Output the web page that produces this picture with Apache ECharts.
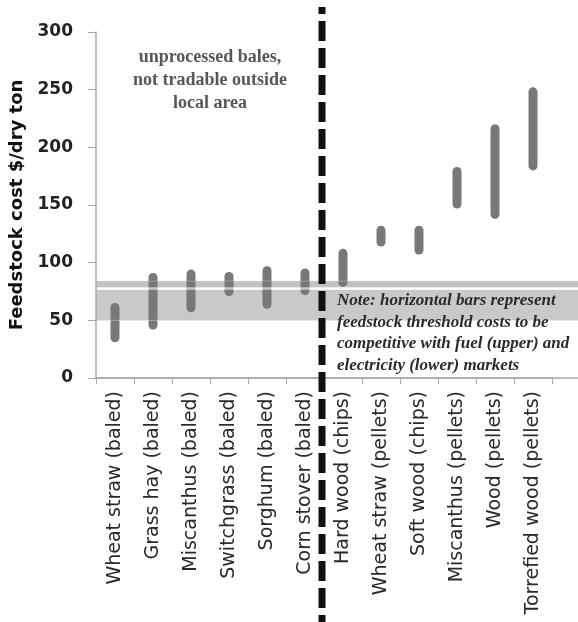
<!DOCTYPE html>
<html>
<head>
<meta charset="utf-8">
<script src="https://cdn.jsdelivr.net/npm/echarts@6/dist/echarts.min.js"></script>
<style>
  html, body { margin: 0; padding: 0; background: #fff; }
  #chart { width: 578px; height: 622px; }
</style>
</head>
<body>
<div id="chart"></div>
<script>
// Feedstock cost ranges ($/dry ton)
const categories = [
  'Wheat straw (baled)', 'Grass hay (baled)', 'Miscanthus (baled)',
  'Switchgrass (baled)', 'Sorghum (baled)', 'Corn stover (baled)',
  'Hard wood (chips)', 'Wheat straw (pellets)', 'Soft wood (chips)',
  'Miscanthus (pellets)', 'Wood (pellets)', 'Torrefied wood (pellets)'
];
const costLow  = [31, 42, 57, 71, 60, 72, 79, 114, 107, 147, 138, 180];
const costHigh = [65, 91, 94, 92, 97, 95, 112, 132, 132, 183, 220, 252];

// Threshold cost bands: fuel (upper) and electricity (lower) markets
const fuelBand = [78.5, 84];
const electricityBand = [50, 76.5];

const yTicks = { min: 0, max: 300, interval: 50 };

const baleNote = 'unprocessed bales,\nnot tradable outside\nlocal area';
const bandNote = 'Note: horizontal bars represent\nfeedstock threshold costs to be\ncompetitive with fuel (upper) and\nelectricity (lower) markets';

const chart = echarts.init(document.getElementById('chart'), null, { renderer: 'canvas' });

const spans = costHigh.map((h, i) => h - costLow[i]);
const AXIS_GREY = '#a8a8a8';

chart.setOption({
  animation: false,
  grid: { left: 96, right: 26, top: 32, bottom: 244, outerBoundsMode: 'none', containLabel: false },
  xAxis: {
    type: 'category',
    data: categories,
    boundaryGap: true,
    axisLine: { lineStyle: { color: AXIS_GREY, width: 1.5 } },
    axisTick: { show: true, length: 6, lineStyle: { color: AXIS_GREY } },
    axisLabel: {
      rotate: 90,
      interval: 0,
      margin: 13,
      fontFamily: 'DejaVu Sans',
      fontSize: 19,
      color: '#2a2a2a'
    }
  },
  yAxis: {
    type: 'value',
    min: yTicks.min,
    max: yTicks.max,
    interval: yTicks.interval,
    name: 'Feedstock cost $/dry ton',
    nameLocation: 'middle',
    nameGap: 62,
    nameRotate: 90,
    nameTextStyle: { fontFamily: 'DejaVu Sans', fontWeight: 'bold', fontSize: 18, color: '#111' },
    axisLine: { show: true, lineStyle: { color: AXIS_GREY, width: 1.5 } },
    axisTick: { show: true, length: 8, lineStyle: { color: AXIS_GREY } },
    axisLabel: {
      margin: 23,
      fontFamily: 'DejaVu Sans',
      fontWeight: 'bold',
      fontSize: 17,
      color: '#222'
    },
    splitLine: { show: false }
  },
  series: [
    {
      type: 'bar',
      stack: 'range',
      data: costLow,
      barWidth: 9,
      itemStyle: { color: 'transparent' },
      silent: true
    },
    {
      type: 'bar',
      stack: 'range',
      data: spans,
      barWidth: 9,
      z: 3,
      itemStyle: { color: '#787878', borderRadius: 5 }
    }
  ]
});

// bands and the axis run on to the right edge of the page
const toY = v => chart.convertToPixel({ yAxisIndex: 0 }, v);
const left = chart.convertToPixel({ xAxisIndex: 0 }, 0) - (chart.convertToPixel({ xAxisIndex: 0 }, 1) - chart.convertToPixel({ xAxisIndex: 0 }, 0)) / 2;
const right = 578;
const bandRect = (band, color) => ({
  type: 'rect',
  z: 0,
  silent: true,
  shape: { x: left, y: toY(band[1]), width: right - left, height: toY(band[0]) - toY(band[1]) },
  style: { fill: color }
});
const hLine = (v, color, width, opacity) => ({
  type: 'line',
  z: 10,
  silent: true,
  shape: { x1: left + 1, y1: toY(v), x2: right, y2: toY(v) },
  style: { stroke: color, lineWidth: width, opacity: opacity }
});

// divider between unprocessed bales and processed feedstocks
const xa = chart.convertToPixel({ xAxisIndex: 0 }, 5);
const xb = chart.convertToPixel({ xAxisIndex: 0 }, 6);
const divX = (xa + xb) / 2 - 2;
const baleCenter = (xa + chart.convertToPixel({ xAxisIndex: 0 }, 0)) / 2;

chart.setOption({
  graphic: [
    bandRect(electricityBand, '#c9c9c9'),
    bandRect(fuelBand, '#c2c2c2'),
    hLine((fuelBand[0] + electricityBand[1]) / 2, '#ffffff', 2.5, 0.6),
    hLine(electricityBand[0], '#d4d4d4', 1, 0.5),
    hLine(fuelBand[1], '#d4d4d4', 1, 0.4),
    {
      type: 'line',
      z: 1,
      silent: true,
      shape: { x1: left, y1: toY(0), x2: right, y2: toY(0) },
      style: { stroke: AXIS_GREY, lineWidth: 1.5 }
    },
    {
      type: 'line',
      z: 100,
      shape: { x1: divX, y1: 7, x2: divX, y2: 622 },
      style: { stroke: '#111', lineWidth: 7, lineDash: [20, 7], lineDashOffset: 13 }
    },
    {
      type: 'text',
      z: 100,
      x: baleCenter,
      y: 46,
      style: {
        text: baleNote,
        align: 'center',
        verticalAlign: 'top',
        fontFamily: 'Liberation Serif',
        fontWeight: 'bold',
        fontSize: 18,
        lineHeight: 23,
        fill: '#575757'
      }
    },
    {
      type: 'text',
      z: 100,
      x: 337,
      y: 290,
      style: {
        text: bandNote,
        align: 'left',
        verticalAlign: 'top',
        fontFamily: 'Liberation Serif',
        fontWeight: 'bold',
        fontStyle: 'italic',
        fontSize: 17,
        lineHeight: 21.5,
        fill: '#2a2a2a'
      }
    }
  ]
});
</script>
</body>
</html>
